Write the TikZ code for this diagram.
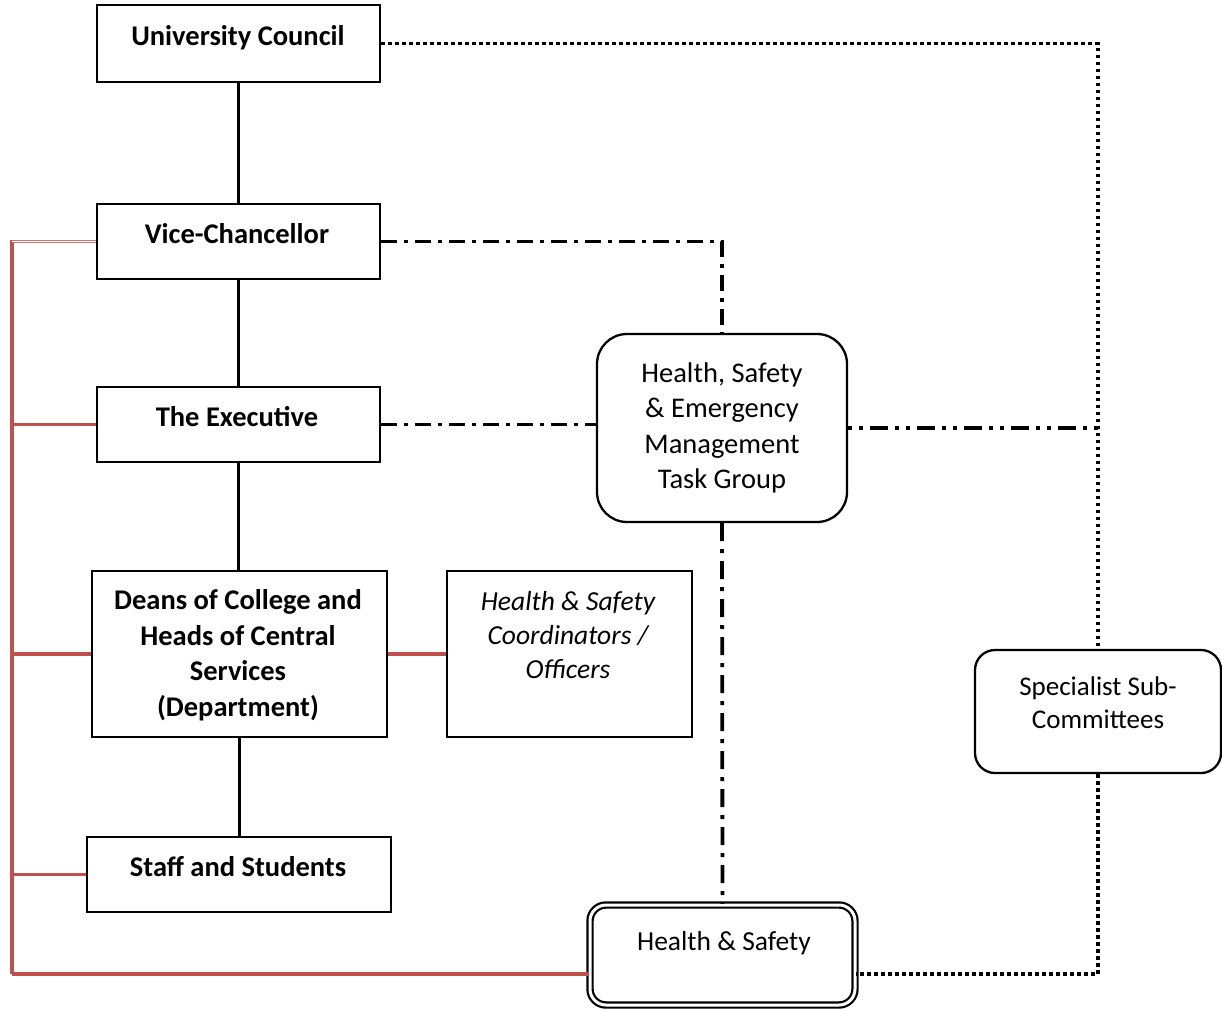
\documentclass[tikz,border=0pt]{standalone}
\usepackage{fontspec}
\setmainfont{Carlito}
\definecolor{hsred}{HTML}{C0504D}
\begin{document}
\begin{tikzpicture}[x=1pt,y=-1pt]
\tikzset{
 frame/.style={draw=black, line width=2.3pt, inner sep=0pt, fill=white},
 rbox/.style={frame, rounded corners=#1},
 lbl/.style={align=center, inner sep=0pt, font=\fontsize{28.5}{35.5}\selectfont},
 blbl/.style={align=center, inner sep=0pt, font=\fontsize{28.5}{35.5}\selectfont\bfseries},
 ilbl/.style={align=center, inner sep=0pt, font=\fontsize{27.5}{34}\selectfont\itshape},
 solidc/.style={draw=black, line width=3.6pt},
 redc/.style={draw=hsred, line width=3.6pt},
 redthin/.style={draw=hsred!80, line width=1.2pt, double=white, double distance=1pt},
 dotc/.style={draw=black, line width=3.8pt, dash pattern=on 3.5pt off 3.5pt},
 dashdot/.style={draw=black, line width=3.8pt, dash pattern=on 16pt off 7pt on 4pt off 7pt},
 dashdotv/.style={draw=black, line width=3.8pt, dash pattern=on 18pt off 8pt on 4pt off 8pt},
 dashdotdot/.style={draw=black, line width=3.8pt, dash pattern=on 4pt off 7pt on 4pt off 7pt on 18pt off 7pt},
}
\useasboundingbox (0,0) rectangle (1222,1009);

% boxes
\node[frame, minimum width=283pt, minimum height=77pt] (uc) at (238.5,43.5) {};
\node[blbl] (uct) at (238,38) {University Council};
\node[frame, minimum width=283pt, minimum height=75pt] (vc) at (238.5,241.5) {};
\node[blbl] (vct) at (237,234) {Vice-Chancellor};
\node[frame, minimum width=283pt, minimum height=75pt] (ex) at (238.5,424.5) {};
\node[blbl] (ext) at (237,417) {The Executive};
\node[frame, minimum width=295pt, minimum height=166pt] (de) at (239.5,654) {};
\node[blbl] (det) at (238,655) {Deans of College and\\Heads of Central\\Services\\(Department)};
\node[frame, minimum width=304pt, minimum height=75pt] (st) at (239,874.5) {};
\node[blbl] (stt) at (238,867) {Staff and Students};
\node[frame, minimum width=245pt, minimum height=166pt] (co) at (569.5,654) {};
\node[ilbl] (cot) at (568,635) {Health \& Safety\\Coordinators /\\Officers};
\node[rbox=30pt, minimum width=250pt, minimum height=188pt] (hs) at (722,428) {};
\node[lbl] (hst) at (722,428) {Health, Safety\\\& Emergency\\Management\\Task Group};
\node[rbox=20pt, minimum width=246pt, minimum height=123pt] (sp) at (1098,711.5) {};
\node[lbl, font=\fontsize{27}{33}\selectfont] (spt) at (1098,703) {Specialist Sub-\\Committees};
\node[draw=black, line width=2.2pt, double=white, double distance=3pt, rounded corners=16pt,
      inner sep=0pt, minimum width=265pt, minimum height=100pt] (hsf) at (722.5,955) {};
\node[lbl, font=\fontsize{27.5}{33}\selectfont] (hsft) at (724,943) {Health \& Safety};

% helper coordinates
\coordinate (rt) at (12,240);
\coordinate (rb) at (12,974);
\coordinate (ctop) at (1098,44);
\coordinate (cbot) at (1098,974);

% solid hierarchy
\draw[solidc] (uc.south) -- (uc.south |- vc.north);
\draw[solidc] (vc.south) -- (vc.south |- ex.north);
\draw[solidc] (ex.south) -- (ex.south |- de.north);
\draw[solidc] (de.south) -- (de.south |- st.north);

% red lines
\draw[redc] (rt) -- (rb);
\draw[redthin] (vc.west) -- (vc.west -| rt);
\draw[redc] (ex.west) -- (ex.west -| rt);
\draw[redc] (de.west) -- (de.west -| rt);
\draw[redc] (st.west) -- (st.west -| rt);
\draw[redc] (rb) -- (hsf.west |- rb);
\draw[redc] (de.east) -- (co.west);

% dotted
\draw[dotc] (uc.east) -- (uc.east -| ctop) -- (sp.north);
\draw[dotc] (sp.south) -- (sp.south |- cbot) -- (hsf.east |- cbot);

% dash-dot
\draw[dashdot] (vc.east) -| (hs.north);
\draw[dashdot] (ex.east) -- (hs.west |- ex.east);
\draw[dashdotdot] (hs.east) -- (hs.east -| ctop);
\draw[dashdotv] (hs.south) -- (hsf.north);
\end{tikzpicture}
\end{document}
